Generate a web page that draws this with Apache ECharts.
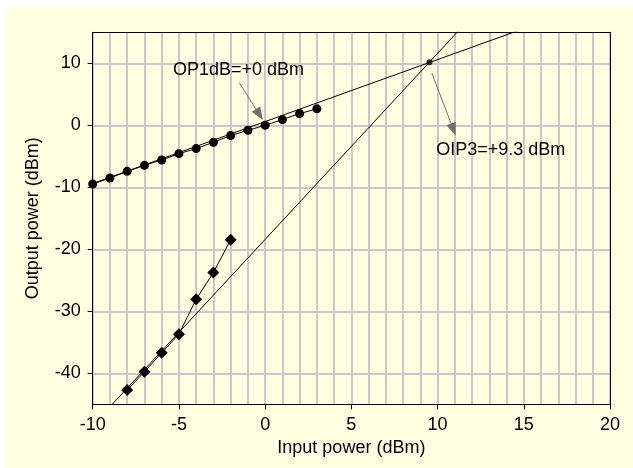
<!DOCTYPE html>
<html>
<head>
	<meta charset="utf-8">
	<title>OIP3</title>
	<style type="text/css">
		body{
			margin: 0px;
			background: #fff;
		}
		.chart{
			position: absolute;
			left: 6px;
			top: 8px;
			width: 627px;
			height: 460px;
		}
	</style>
	<script type="text/javascript" src="https://cdn.jsdelivr.net/npm/echarts@6/dist/echarts.min.js"></script>
</head>
<body>
	<div id="chart" class="chart"></div>
	<script type="text/javascript">
		// measured points
		var fundIn = [-10, -9, -8, -7, -6, -5, -4, -3, -2, -1, 0, 1, 2, 3];
		var fundOut = [-9.47, -8.5, -7.43, -6.46, -5.6, -4.57, -3.76, -2.74, -1.66, -0.8, 0.0, 0.92, 1.89, 2.65];
		var im3In = [-8, -7, -6, -5, -4, -3, -2];
		var im3Out = [-42.7, -39.74, -36.7, -33.7, -28.05, -23.75, -18.47];
		// extrapolated lines (slope 1 and 3)
		var fundLine = [[-10, -9.4], [15, 15.6]];
		var im3Line = [[-9, -45.4], [12, 17.6]];
		var ip3Point = [9.53, 10.15];
		var yTicks = [-40, -30, -20, -10, 0, 10];

		var fontFamily = 'Liberation Sans, Arial, sans-serif';
		var pair = function(xs, ys){
			return xs.map(function(x, i){ return [x, ys[i]]; });
		};
		var frameAxis = function(pos, min, max){
			return {
				type: 'value',
				position: pos,
				min: min,
				max: max,
				axisLine: { show: true, onZero: false, lineStyle: { color: '#000', width: 1 } },
				axisTick: { show: false },
				axisLabel: { show: false },
				splitLine: { show: false }
			};
		};

		window.onload = function(){
			var chart = echarts.init(document.getElementById('chart'));
			chart.setOption({
				backgroundColor: '#ffffe1',
				animation: false,
				textStyle: { fontFamily: fontFamily },
				grid: {
					left: 86.7,
					top: 24.3,
					right: 23,
					bottom: 63.7,
					show: true,
					backgroundColor: '#ffffe1',
					borderWidth: 0
				},
				xAxis: [{
					type: 'value',
					position: 'bottom',
					min: -10,
					max: 20,
					interval: 5,
					name: 'Input power (dBm)',
					nameLocation: 'middle',
					nameGap: 34,
					nameTextStyle: { color: '#000', fontSize: 18, fontFamily: fontFamily },
					axisLine: { onZero: false, lineStyle: { color: '#000', width: 1 } },
					axisTick: { show: true, length: 5, lineStyle: { color: '#000' } },
					axisLabel: { color: '#000', fontSize: 18, margin: 12, fontFamily: fontFamily },
					splitLine: { show: true, lineStyle: { color: '#c8c8c8', width: 2 } },
					minorTick: { show: false, splitNumber: 5 },
					minorSplitLine: { show: true, lineStyle: { color: '#c8c8c8', width: 2 } }
				}, frameAxis('top', -10, 20)],
				yAxis: [{
					type: 'value',
					position: 'left',
					min: -45,
					max: 15,
					name: 'Output power (dBm)',
					nameLocation: 'middle',
					nameGap: 51,
					nameTextStyle: { color: '#000', fontSize: 18, fontFamily: fontFamily },
					axisLine: { show: true, onZero: false, lineStyle: { color: '#000', width: 1 } },
					axisTick: { show: true, length: 5, customValues: yTicks, lineStyle: { color: '#000' } },
					axisLabel: { color: '#000', fontSize: 18, margin: 12, customValues: yTicks, fontFamily: fontFamily },
					splitLine: { show: true, lineStyle: { color: '#c8c8c8', width: 2 } }
				}, frameAxis('right', -45, 15)],
				series: [{
					type: 'line',
					data: fundLine,
					symbol: 'none',
					lineStyle: { color: '#000', width: 1 },
					silent: true
				}, {
					type: 'line',
					data: im3Line,
					symbol: 'none',
					lineStyle: { color: '#000', width: 1 },
					silent: true
				}, {
					type: 'line',
					data: pair(fundIn, fundOut),
					symbol: 'circle',
					symbolSize: 9,
					itemStyle: { color: '#000' },
					lineStyle: { color: '#000', width: 1 },
					markLine: {
						silent: true,
						symbol: ['none', 'triangle'],
						symbolSize: [10, 13],
						lineStyle: { color: '#707070', width: 1, type: 'solid' },
						label: { show: false },
						data: [
							[{ coord: [-1.5, 6.85] }, { coord: [-0.33, 1.73] }],
							[{ coord: [9.67, 8.4] }, { coord: [10.92, -0.7] }]
						]
					},
					markPoint: {
						silent: true,
						symbol: 'circle',
						symbolSize: 0,
						label: {
							show: true,
							position: 'right',
							distance: 0,
							color: '#000',
							fontSize: 18,
							fontFamily: fontFamily,
							formatter: '{b}'
						},
						data: [
							{ name: 'OP1dB=+0 dBm', coord: [-5.35, 8.84] },
							{ name: 'OIP3=+9.3 dBm', coord: [9.92, -3.93] }
						]
					}
				}, {
					type: 'line',
					data: pair(im3In, im3Out),
					symbol: 'diamond',
					symbolSize: [12, 12],
					itemStyle: { color: '#000' },
					lineStyle: { color: '#000', width: 1 }
				}, {
					type: 'scatter',
					data: [ip3Point],
					symbol: 'circle',
					symbolSize: 6,
					itemStyle: { color: '#000' }
				}]
			});
		};
	</script>
</body>
</html>
